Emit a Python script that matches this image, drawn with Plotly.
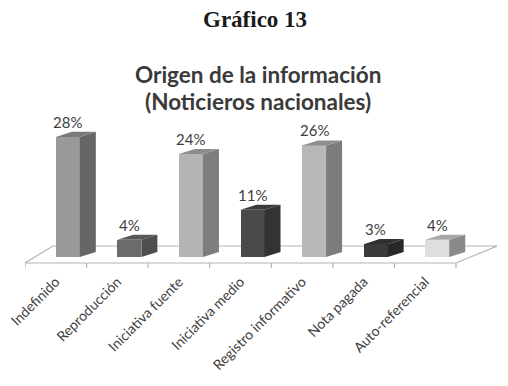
import plotly.graph_objects as go

categories = ["Indefinido", "Reproducción", "Iniciativa fuente", "Iniciativa medio",
              "Registro informativo", "Nota pagada", "Auto-referencial"]
values = [28, 4, 24, 11, 26, 3, 4]
labels = ["28%", "4%", "24%", "11%", "26%", "3%", "4%"]

front_colors = ["#999999", "#6b6b6b", "#b4b4b4", "#4a4a4a", "#b8b8b8", "#3a3a3a", "#dedede"]
side_colors = ["#666666", "#4e4e4e", "#7e7e7e", "#333333", "#7c7c7c", "#282828", "#8a8a8a"]
top_colors = ["#7a7a7a", "#585858", "#8c8c8c", "#3b3b3b", "#8e8e8e", "#303030", "#a8a8a8"]

# 3D geometry (data units)
OFF = 0.195   # bar front centre offset from category centre
W = 0.39      # bar width
DX = 0.26     # depth offset in x
DY = 1.17     # depth offset in y
FLOOR_FRONT = -1.40
FLOOR_BACK = 2.56
TICK_BOTTOM = -2.56
LEFT_BACK = -0.045
RIGHT_BACK = 7.166

n = len(categories)
xs = [i + OFF for i in range(n)]

fig = go.Figure()

# front faces
fig.add_trace(go.Bar(x=xs, y=values, width=W, marker=dict(color=front_colors, line=dict(width=0)),
                     hoverinfo="skip", showlegend=False))

# side and top faces
for i, v in enumerate(values):
    xl = xs[i] - W / 2
    xr = xs[i] + W / 2
    fig.add_trace(go.Scatter(x=[xr, xr, xr + DX, xr + DX, xr], y=[0, v, v + DY, DY, 0],
                             fill="toself", fillcolor=side_colors[i], mode="lines",
                             line=dict(width=0, color=side_colors[i]), hoverinfo="skip", showlegend=False))
    fig.add_trace(go.Scatter(x=[xl, xr, xr + DX, xl + DX, xl], y=[v, v, v + DY, v + DY, v],
                             fill="toself", fillcolor=top_colors[i], mode="lines",
                             line=dict(width=0, color=top_colors[i]), hoverinfo="skip", showlegend=False))

# floor (below traces)
line_c = "#b3b3b3"
shapes = []
x0 = -0.5
x1 = n - 0.5
shapes.append(dict(type="path", layer="below",
                   path=f"M {x0},{FLOOR_FRONT} L {x1},{FLOOR_FRONT} L {RIGHT_BACK},{FLOOR_BACK} L {LEFT_BACK},{FLOOR_BACK} Z",
                   line=dict(color=line_c, width=1.2), fillcolor="white"))
for k in range(n + 1):
    shapes.append(dict(type="line", layer="below", x0=k - 0.5, x1=k - 0.5, y0=FLOOR_FRONT, y1=TICK_BOTTOM,
                       line=dict(color=line_c, width=1.2)))

annotations = []
for i, v in enumerate(values):
    annotations.append(dict(x=xs[i], y=v + DY, text=labels[i], showarrow=False, xanchor="center",
                            yanchor="bottom", yshift=-1, font=dict(family="Lato", size=15, color="#404040")))

# plot area (window pixels): left 25, right 497, top 115, bottom 270
def py(p):
    return (270 - p) / 155.0

def px(p):
    return (p - 25) / 472.0

annotations.append(dict(x=px(255), xref="paper", y=py(19), yref="paper", text="<b>Gráfico 13</b>", showarrow=False,
                        xanchor="center", yanchor="middle",
                        font=dict(family="Liberation Serif", size=23, color="#1a1a1a")))
annotations.append(dict(x=px(258), xref="paper", y=py(74), yref="paper", text="<b>Origen de la información</b>",
                        showarrow=False, xanchor="center", yanchor="middle",
                        font=dict(family="Lato", size=22.5, color="#3a3a3a")))
annotations.append(dict(x=px(258), xref="paper", y=py(102), yref="paper", text="<b>(Noticieros nacionales)</b>",
                        showarrow=False, xanchor="center", yanchor="middle",
                        font=dict(family="Lato", size=22.5, color="#3a3a3a")))

# page body has an 8px default margin: compensate
fig.update_layout(
    width=500, height=378,
    margin=dict(l=17, r=11, t=107, b=116, autoexpand=False),
    paper_bgcolor="white", plot_bgcolor="white",
    shapes=shapes, annotations=annotations,
    xaxis=dict(range=[-0.5, RIGHT_BACK], tickvals=list(range(n)), ticktext=categories, tickangle=-45,
               showgrid=False, zeroline=False, showline=False, ticks="", automargin=False,
               ticklabeloverflow="allow",
               tickfont=dict(family="Lato", size=14, color="#404040")),
    yaxis=dict(range=[-3.03, 33.1], visible=False, showgrid=False, zeroline=False, automargin=False),
    bargap=0,
)

fig.write_html("out.html")
